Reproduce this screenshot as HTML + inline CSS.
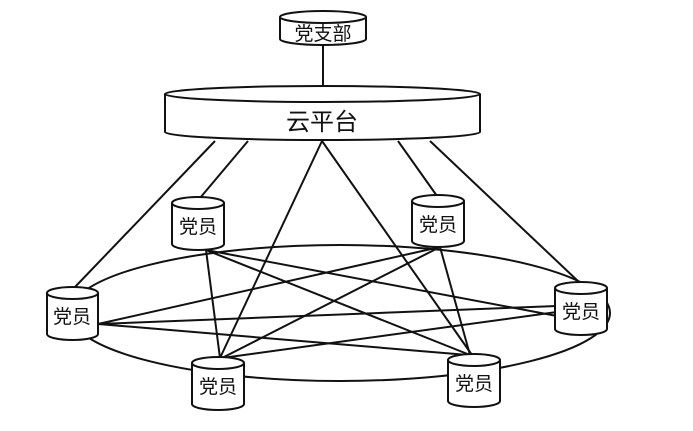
<!DOCTYPE html>
<html><head><meta charset="utf-8"><style>
html,body{margin:0;padding:0;background:#fff;width:693px;height:431px;overflow:hidden}
svg text{font-family:"Liberation Sans","Noto Sans CJK SC",sans-serif;fill:#111}
</style></head><body>
<svg width="693" height="431" viewBox="0 0 693 431" xmlns="http://www.w3.org/2000/svg">
<g stroke="#111" stroke-width="2" fill="none">
<ellipse cx="340" cy="313" rx="270" ry="68"/>
<line x1="323" y1="45" x2="323" y2="86"/>
<line x1="215" y1="141" x2="75" y2="287"/>
<line x1="248" y1="141" x2="200" y2="198"/>
<line x1="322" y1="141" x2="220" y2="358"/>
<line x1="322" y1="141" x2="472" y2="355"/>
<line x1="398" y1="141" x2="437" y2="196"/>
<line x1="430" y1="141" x2="580" y2="283"/>
<line x1="206" y1="250" x2="220" y2="358"/>
<line x1="206" y1="250" x2="557" y2="316"/>
<line x1="206" y1="250" x2="470" y2="355"/>
<line x1="440" y1="247" x2="98" y2="324"/>
<line x1="440" y1="247" x2="222" y2="358"/>
<line x1="440" y1="247" x2="470" y2="355"/>
<line x1="98" y1="324" x2="557" y2="306"/>
<line x1="98" y1="324" x2="468" y2="355"/>
<line x1="222" y1="358" x2="557" y2="312"/>
</g>
<g stroke="#111" stroke-width="2" fill="#fff">
<!-- 党支部 -->
<path d="M280 17 V39 A43 6 0 0 0 366 39 V17"/>
<ellipse cx="323" cy="17" rx="43" ry="6"/>
<!-- 云平台 -->
<path d="M165 94 V132 A157 8 0 0 0 480 132 V94"/>
<ellipse cx="322.5" cy="94" rx="157.5" ry="8"/>
</g>
<text x="323" y="40" font-size="19" text-anchor="middle">党支部</text>
<text x="322" y="130" font-size="24" text-anchor="middle">云平台</text>
<g id="cyls" stroke="#111" stroke-width="2" fill="#fff">
<path d="M172 203 V244 A26 6 0 0 0 224 244 V203"/><ellipse cx="198" cy="203" rx="26" ry="6"/>
<path d="M412 201 V241 A26 6 0 0 0 464 241 V201"/><ellipse cx="438" cy="201" rx="26" ry="6"/>
<path d="M47 293 V334 A25.5 6 0 0 0 98 334 V293"/><ellipse cx="72.5" cy="293" rx="25.5" ry="6"/>
<path d="M555 288 V329 A26 6 0 0 0 607 329 V288"/><ellipse cx="581" cy="288" rx="26" ry="6"/>
<path d="M192 363 V404 A26 6 0 0 0 244 404 V363"/><ellipse cx="218" cy="363" rx="26" ry="6"/>
<path d="M448 360 V401 A26 6 0 0 0 500 401 V360"/><ellipse cx="474" cy="360" rx="26" ry="6"/>
</g>
<g font-size="19" text-anchor="middle">
<text x="198" y="233">党员</text>
<text x="438" y="231">党员</text>
<text x="72" y="323">党员</text>
<text x="581" y="318">党员</text>
<text x="218" y="393">党员</text>
<text x="474" y="390">党员</text>
</g>
</svg>
</body></html>
